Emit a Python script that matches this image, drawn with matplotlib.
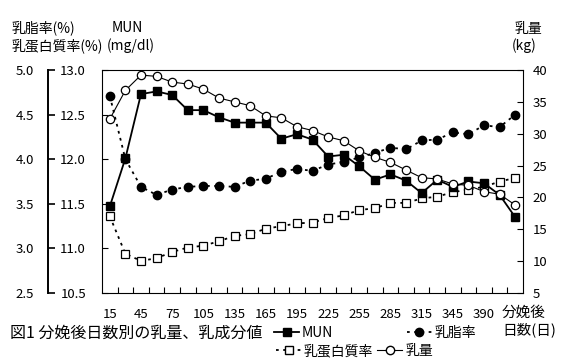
import matplotlib
matplotlib.use("Agg")
import matplotlib.pyplot as plt
from matplotlib.lines import Line2D

plt.rcParams['font.family'] = ['Noto Sans CJK JP', 'DejaVu Sans']

# days after calving (27 categories, labels shown on every other one)
day_labels = ['15', '30', '45', '60', '75', '90', '105', '120', '135', '150',
              '165', '180', '195', '210', '225', '240', '255', '270', '285', '300',
              '315', '330', '345', '360', '390', '405', '420']
shown_labels = ['15', '45', '75', '105', '135', '165', '195', '225', '255',
                '285', '315', '345', '390']

mun = [11.47, 12.01, 12.73, 12.76, 12.72, 12.55, 12.55, 12.47, 12.41, 12.41,
       12.41, 12.23, 12.28, 12.22, 12.03, 12.05, 11.92, 11.77, 11.83, 11.76,
       11.62, 11.77, 11.69, 11.75, 11.73, 11.60, 11.35]
fat = [4.71, 4.00, 3.69, 3.60, 3.66, 3.69, 3.70, 3.70, 3.69, 3.76,
       3.78, 3.86, 3.89, 3.87, 3.94, 3.97, 4.02, 4.07, 4.13, 4.11,
       4.21, 4.22, 4.30, 4.28, 4.38, 4.36, 4.50]
protein = [3.36, 2.94, 2.86, 2.89, 2.96, 3.01, 3.03, 3.08, 3.14, 3.16,
           3.22, 3.25, 3.28, 3.29, 3.34, 3.37, 3.43, 3.45, 3.51, 3.51,
           3.56, 3.58, 3.63, 3.66, 3.69, 3.75, 3.79]
milk = [32.3, 36.8, 39.2, 39.0, 38.1, 37.8, 37.0, 35.6, 35.0, 34.4,
        32.8, 32.5, 31.1, 30.5, 29.5, 28.9, 27.3, 26.3, 25.5, 24.3,
        23.1, 22.9, 22.1, 21.9, 20.9, 20.5, 18.8]

W, H = 562, 358
fig = plt.figure(figsize=(W / 100, H / 100), dpi=100)


def fx(x):
    return x / W


def fy(y):
    return 1 - y / H


x = list(range(len(day_labels)))
rect = [fx(102), fy(293), fx(523) - fx(102), fy(70) - fy(293)]
TS = 9.5  # tick label size
DOT = (0, (1.5, 2.5))

# fat / protein axis: its left spine is the detached axis on the far left
ax = fig.add_axes(rect)
ax.set_xlim(-0.5, len(x) - 0.5)
ax.set_ylim(2.5, 5.0)
ax.plot(x, fat, color='black', linestyle=DOT, linewidth=1.3,
        marker='o', markersize=6, markerfacecolor='black', markeredgecolor='black')
ax.plot(x, protein, color='black', linestyle=DOT, linewidth=1.3,
        marker='s', markersize=6, markerfacecolor='white', markeredgecolor='black',
        markeredgewidth=0.9)
ax.spines['left'].set_position(('outward', 54 * 0.72))
ax.spines['left'].set_linewidth(1.4)
ax.set_yticks([2.5, 3.0, 3.5, 4.0, 4.5, 5.0])
ax.set_yticklabels(['2.5', '3.0', '3.5', '4.0', '4.5', '5.0'], fontsize=TS)
ax.tick_params(axis='y', direction='in', length=5, width=1.2, pad=10)
ax.set_xticks([i for i, d in enumerate(day_labels) if d in shown_labels])
ax.set_xticklabels(shown_labels, fontsize=TS)
ax.set_xticks([i + 0.5 for i in range(len(x) - 1)], minor=True)
ax.tick_params(axis='x', which='major', length=0, pad=11)
ax.tick_params(axis='x', which='minor', direction='in', length=4, width=0.8)
ax.spines['right'].set_visible(False)

# MUN: left frame line with its labels between the two left spines
ax_mun = ax.twinx()
ax_mun.set_ylim(10.5, 13.0)
ax_mun.plot(x, mun, color='black', linewidth=1.3, marker='s', markersize=6,
            markerfacecolor='black', markeredgecolor='black')
ax_mun.yaxis.tick_left()
ax_mun.set_yticks([10.5, 11.0, 11.5, 12.0, 12.5, 13.0])
ax_mun.set_yticklabels(['10.5', '11.0', '11.5', '12.0', '12.5', '13.0'], fontsize=TS)
ax_mun.tick_params(axis='y', direction='in', length=4, width=0.8, pad=11.5)
for k in ['top', 'bottom', 'right']:
    ax_mun.spines[k].set_visible(False)

# milk yield
ax_milk = ax.twinx()
ax_milk.set_ylim(5, 40)
ax_milk.plot(x, milk, color='black', linewidth=0.8, marker='o', markersize=6,
             markerfacecolor='white', markeredgecolor='black', markeredgewidth=0.9)
ax_milk.set_yticks(range(5, 41, 5))
ax_milk.tick_params(axis='y', direction='in', length=4, width=0.8, pad=7,
                    labelsize=TS)
for k in ['top', 'bottom', 'left']:
    ax_milk.spines[k].set_visible(False)

# axis titles
fig.text(fx(12), fy(28), '乳脂率(%)', fontsize=10, va='center')
fig.text(fx(12), fy(46), '乳蛋白質率(%)', fontsize=10, va='center')
fig.text(fx(112), fy(28), 'MUN', fontsize=10, va='center')
fig.text(fx(107), fy(46), '(mg/dl)', fontsize=10, va='center')
fig.text(fx(515), fy(29), '乳量', fontsize=10, va='center')
fig.text(fx(512), fy(46), '(kg)', fontsize=10, va='center')
fig.text(fx(502), fy(313), '分娩後', fontsize=10.5, va='center')
fig.text(fx(502), fy(330), '日数(日)', fontsize=10.5, va='center')

fig.text(fx(10), fy(333), '図1 分娩後日数別の乳量、乳成分値', fontsize=11.5,
         va='center')

h_mun = Line2D([], [], color='black', linewidth=1.3, marker='s', markersize=6,
               markerfacecolor='black')
h_pro = Line2D([], [], color='black', linestyle=DOT, linewidth=1.3,
               marker='s', markersize=6, markerfacecolor='white')
h_fat = Line2D([], [], color='black', linestyle=DOT, linewidth=1.3,
               marker='o', markersize=6, markerfacecolor='black')
h_milk = Line2D([], [], color='black', linewidth=0.8, marker='o', markersize=6,
                markerfacecolor='white')

fig.legend([h_mun, h_fat], ['MUN', '乳脂率'], ncol=2,
           loc='center left', bbox_to_anchor=(fx(274), fy(333)),
           frameon=False, fontsize=10, handlelength=1.8,
           handletextpad=0.2, columnspacing=5.3, borderpad=0,
           borderaxespad=0)
fig.legend([h_pro, h_milk], ['乳蛋白質率', '乳量'], ncol=2,
           loc='center left', bbox_to_anchor=(fx(276), fy(351)),
           frameon=False, fontsize=10, handlelength=1.8,
           handletextpad=0.2, columnspacing=0.3, borderpad=0,
           borderaxespad=0)

fig.savefig('out.png', dpi=100)
